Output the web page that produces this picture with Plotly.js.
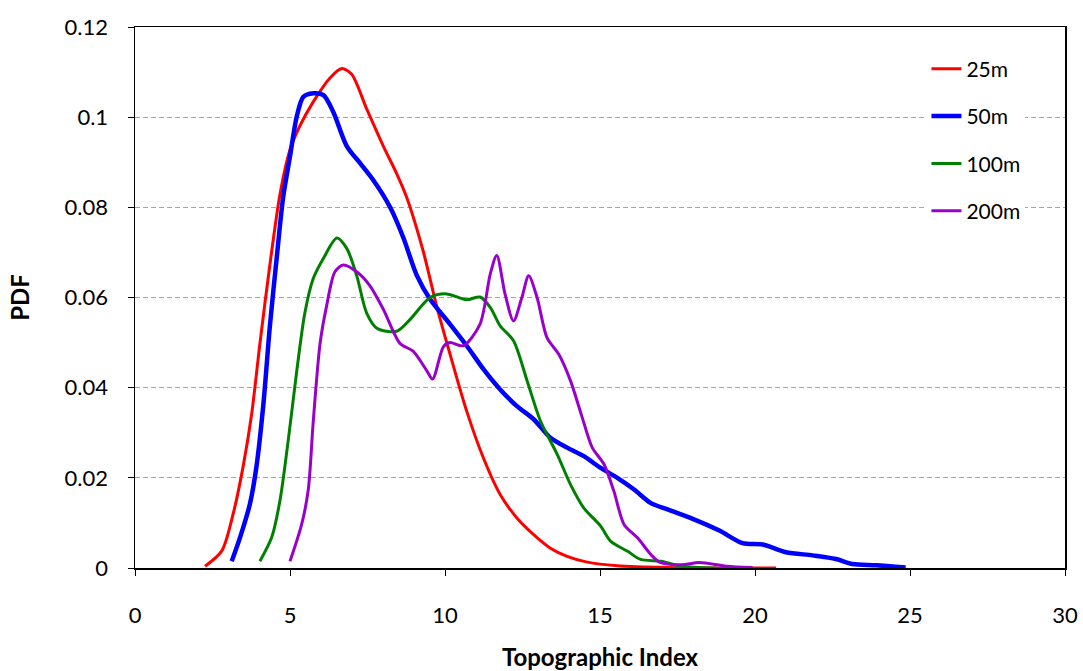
<!DOCTYPE html>
<html>
<head>
<meta charset="utf-8">
<script src="https://cdn.plot.ly/plotly-3.0.1.min.js"></script>
<style>html,body{margin:0;padding:0;background:#fff;}#chart{width:1083px;height:671px;}</style>
</head>
<body>
<div id="chart"></div>
<script>
// 25m
const red_x = [2.26, 2.8, 3.17, 3.49, 3.76, 4.03, 4.35, 4.68, 5.0, 5.32, 5.75, 6.29, 6.67, 6.99, 7.47, 8.01, 8.44, 8.76, 9.3, 9.73, 10.16, 10.7, 11.24, 11.78, 12.32, 12.86, 13.4, 13.94, 14.59, 15.56, 17.2, 19.0, 20.68];
const red_y = [0.0004, 0.0038, 0.0121, 0.0226, 0.034, 0.0498, 0.0672, 0.083, 0.0928, 0.0981, 0.1034, 0.1087, 0.1108, 0.1095, 0.1019, 0.0936, 0.0875, 0.0823, 0.0702, 0.0581, 0.0475, 0.0348, 0.0244, 0.0163, 0.0111, 0.0074, 0.0044, 0.0026, 0.0013, 0.0005, 0.0001, 0.0, 0.0];
// 50m
const blue_x = [3.12, 3.39, 3.71, 3.92, 4.14, 4.35, 4.57, 4.78, 5.0, 5.22, 5.43, 5.75, 6.08, 6.4, 6.83, 7.26, 7.69, 8.23, 8.66, 9.09, 9.52, 10.16, 10.7, 11.24, 11.78, 12.32, 12.86, 13.4, 13.94, 14.48, 15.02, 15.56, 16.1, 16.64, 17.18, 17.99, 18.85, 19.6, 20.25, 21.0, 21.86, 22.61, 23.14, 23.9, 24.86];
const blue_y = [0.0015, 0.0068, 0.0143, 0.0226, 0.0362, 0.0536, 0.0687, 0.0823, 0.0913, 0.1002, 0.1045, 0.1053, 0.1049, 0.1011, 0.0936, 0.0898, 0.086, 0.08, 0.0732, 0.0649, 0.0596, 0.0541, 0.0493, 0.0441, 0.0396, 0.0359, 0.033, 0.0289, 0.0267, 0.0248, 0.0222, 0.02, 0.0174, 0.0144, 0.013, 0.0109, 0.0083, 0.0055, 0.0052, 0.0035, 0.0028, 0.002, 0.0009, 0.0006, 0.0001];
// 100m
const green_x = [4.03, 4.41, 4.68, 4.95, 5.22, 5.48, 5.75, 6.08, 6.51, 6.83, 7.15, 7.47, 7.8, 8.44, 8.87, 9.52, 10.05, 10.7, 11.13, 11.46, 11.78, 12.21, 12.65, 13.08, 13.62, 14.05, 14.48, 15.02, 15.35, 15.89, 16.31, 16.97, 17.61, 18.74];
const green_y = [0.0015, 0.0068, 0.0151, 0.0287, 0.0438, 0.0566, 0.0642, 0.0687, 0.0732, 0.0709, 0.0649, 0.0566, 0.0532, 0.0525, 0.0551, 0.06, 0.0608, 0.0595, 0.0601, 0.0578, 0.0537, 0.0504, 0.0415, 0.0326, 0.0252, 0.0185, 0.0133, 0.0093, 0.0059, 0.0037, 0.0019, 0.0015, 0.0004, 0.0];
// 200m
const purple_x = [5.0, 5.38, 5.59, 5.75, 5.97, 6.18, 6.45, 6.72, 7.15, 7.58, 8.01, 8.55, 8.97, 9.41, 9.6, 9.95, 10.16, 10.59, 11.13, 11.46, 11.67, 11.94, 12.21, 12.48, 12.7, 12.97, 13.29, 13.67, 14.05, 14.43, 14.75, 15.13, 15.45, 15.78, 16.21, 16.64, 16.92, 17.61, 18.21, 19.07, 19.92];
const purple_y = [0.0015, 0.0098, 0.0174, 0.0325, 0.0498, 0.0581, 0.0657, 0.0672, 0.0657, 0.0626, 0.0574, 0.0498, 0.0481, 0.0438, 0.0419, 0.0491, 0.05, 0.0493, 0.0541, 0.0652, 0.0693, 0.0607, 0.0548, 0.06, 0.0648, 0.06, 0.0511, 0.0474, 0.0415, 0.0333, 0.0267, 0.023, 0.017, 0.0096, 0.0067, 0.003, 0.0013, 0.0007, 0.0012, 0.0004, 0.0001];

const series_names = ["25m", "50m", "100m", "200m"];
const x_ticks = [0, 5, 10, 15, 20, 25, 30];
const y_ticks = [0, 0.02, 0.04, 0.06, 0.08, 0.1, 0.12];
const y_tick_labels = ["0", "0.02", "0.04", "0.06", "0.08", "0.1", "0.12"];

const FONT = "Lato, 'Open Sans', sans-serif";
function tr(x, y, name, color, w) {
  return {x: x, y: y, name: name, type: 'scatter', mode: 'lines', legendgroup: name,
    line: {color: color, width: w, shape: 'spline', smoothing: 0.8}};
}
const data = [
  tr(red_x, red_y, series_names[0], '#ff0000', 3),
  tr(blue_x, blue_y, series_names[1], '#0000ff', 4.5),
  tr(green_x, green_y, series_names[2], '#008000', 3),
  tr(purple_x, purple_y, series_names[3], '#9900cc', 3)
];
const layout = {
  width: 1083, height: 671,
  margin: {l: 135, r: 18, t: 27, b: 103},
  paper_bgcolor: '#fff', plot_bgcolor: '#fff',
  font: {family: FONT, size: 22, color: '#000'},
  showlegend: true,
  legend: {x: 0.851, y: 0.96, xanchor: 'left', yanchor: 'top', bgcolor: '#fff', borderwidth: 0,
    font: {family: FONT, size: 21, color: '#000'}, traceorder: 'grouped', tracegroupgap: 17},
  xaxis: {range: [0, 30], tickvals: x_ticks, ticktext: x_ticks.map(String), showgrid: false, zeroline: false,
    showline: true, linecolor: '#000', linewidth: 1.5, mirror: true,
    ticks: 'outside', ticklen: 6, tickcolor: '#000', ticklabelstandoff: 21,
    tickfont: {family: FONT, size: 22},
    title: {text: 'Topographic Index', font: {family: FONT, size: 24, weight: 'bold'}, standoff: 24}},
  yaxis: {range: [0, 0.12], tickvals: y_ticks, ticktext: y_tick_labels, showgrid: true, gridcolor: '#a6a6a6',
    griddash: '5px,3px', gridwidth: 1, zeroline: false,
    showline: true, linecolor: '#000', linewidth: 1.5, mirror: true,
    ticks: 'outside', ticklen: 6, tickcolor: '#000', ticklabelstandoff: 15,
    tickfont: {family: FONT, size: 22},
    title: {text: 'PDF', font: {family: FONT, size: 24, weight: 'bold'}, standoff: 28}}
};
Plotly.newPlot('chart', data, layout, {displayModeBar: false, staticPlot: true});
</script>
</body>
</html>
